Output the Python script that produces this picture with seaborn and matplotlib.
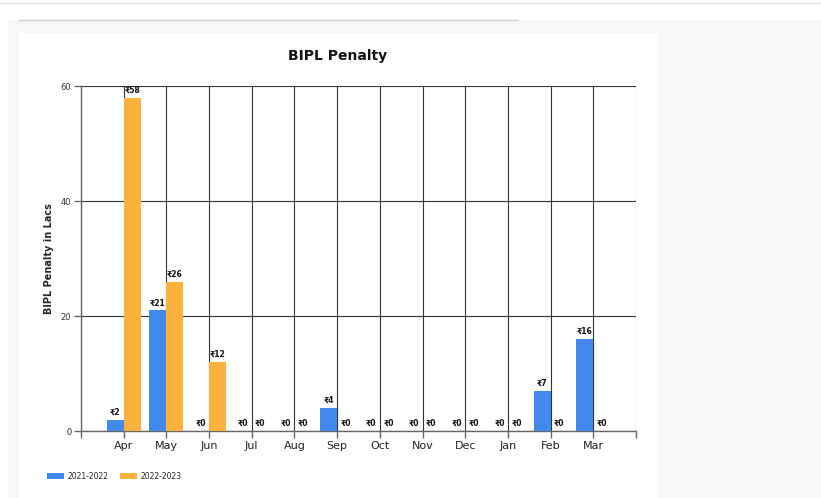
import pandas as pd
import matplotlib
matplotlib.use("Agg")
import matplotlib.pyplot as plt
import seaborn as sns
from matplotlib.patches import Rectangle, Patch
from matplotlib.lines import Line2D

months = ["Apr", "May", "Jun", "Jul", "Aug", "Sep", "Oct", "Nov", "Dec", "Jan", "Feb", "Mar"]
fy_2021_22 = [2, 21, 0, 0, 0, 4, 0, 0, 0, 0, 7, 16]
fy_2022_23 = [58, 26, 12, 0, 0, 0, 0, 0, 0, 0, 0, 0]
years = ["2021-2022", "2022-2023"]
colors = ["#4189ee", "#fbb13e"]

df = pd.DataFrame({
    "month": months * 2,
    "penalty": fy_2021_22 + fy_2022_23,
    "year": [years[0]] * len(months) + [years[1]] * len(months),
})

sns.set_style("white")
plt.rcParams["font.family"] = ["DejaVu Sans", "Noto Sans"]

fig = plt.figure(figsize=(8.21, 4.98), dpi=100)
W, H = 821, 498

def px_rect(x0, y0, x1, y1, color):
    fig.patches.append(Rectangle((x0 / W, 1 - y1 / H), (x1 - x0) / W, (y1 - y0) / H,
                                 transform=fig.transFigure, facecolor=color,
                                 edgecolor="none", zorder=-10))

def px_line(x0, y0, x1, y1, color, lw=1):
    fig.lines.append(Line2D([x0 / W, x1 / W], [1 - y0 / H, 1 - y1 / H],
                            transform=fig.transFigure, color=color, lw=lw, zorder=-5))

# page background and card
px_rect(8, 20, W, H, "#f7f7f7")
px_rect(19, 33, 658, H, "white")
px_line(0, 3, W, 3, "#e4e4e4")
px_line(19, 20, 518, 20, "#cfcfcf")

ax = fig.add_axes([81 / W, 1 - 431 / H, (636 - 81) / W, (431 - 86) / H])
ax.set_facecolor("none")

sns.barplot(data=df, x="month", y="penalty", hue="year", order=months,
            hue_order=years, palette=colors, width=0.8, saturation=1,
            edgecolor="none", linewidth=0, ax=ax, legend=False, zorder=3)

for cont in ax.containers:
    vals = [int(round(b.get_height())) for b in cont]
    ax.bar_label(cont, labels=[f"₹{v}" for v in vals], padding=2,
                 fontsize=5.5, fontweight="bold", color="#111111")

ax.set_xlim(-1, 12)
ax.set_ylim(0, 60)
ax.set_xticks(range(-1, 13))
ax.set_xticklabels([""] + months + [""], fontsize=8, color="#222222")
ax.set_yticks([0, 20, 40, 60])
ax.set_yticklabels(["0", "20", "40", "60"], fontsize=6, color="#333333")
ax.tick_params(axis="both", bottom=True, left=True, length=5, width=1,
               color="#666666", pad=2)
ax.grid(True, color="#333333", lw=0.8, zorder=0)
ax.set_axisbelow(True)
for s in ["top", "right"]:
    ax.spines[s].set_visible(False)
for s in ["left", "bottom"]:
    ax.spines[s].set_color("#666666")
    ax.spines[s].set_linewidth(1)

ax.set_xlabel("")
ax.set_ylabel("BIPL Penalty in Lacs", fontsize=7, fontweight="bold")
ax.yaxis.set_label_coords(-0.048, 0.5)

fig.text(338 / W, 1 - 56 / H, "BIPL Penalty", ha="center", va="center",
         fontsize=10, fontweight="bold", color="#111111")

handles = [Patch(facecolor=c, edgecolor="none") for c in colors]
fig.legend(handles, years, loc="center left", bbox_to_anchor=(40 / W, 1 - 476 / H),
           ncol=2, frameon=False, fontsize=5.5, handlelength=2.2, handleheight=0.8,
           columnspacing=1.5, handletextpad=0.5)

fig.savefig("out.png", dpi=100)
